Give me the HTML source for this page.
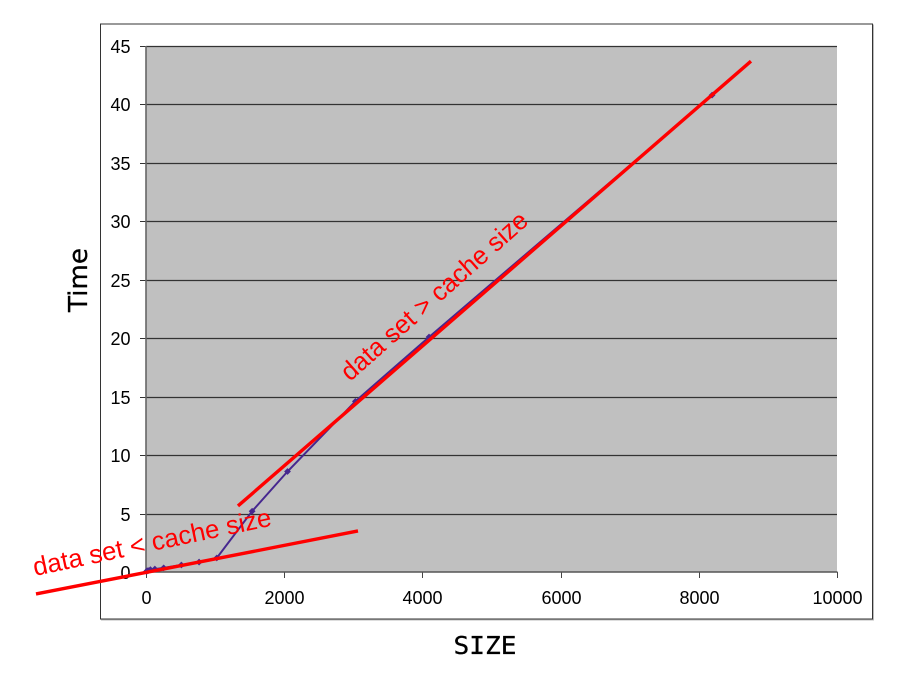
<!DOCTYPE html>
<html>
<head>
<meta charset="utf-8">
<style>
html,body{margin:0;padding:0;background:#fff;}
svg{display:block;}
text{font-family:"Liberation Sans","DejaVu Sans",sans-serif;}
</style>
</head>
<body>
<svg id="chart" width="923" height="676" viewBox="0 0 923 676" xmlns="http://www.w3.org/2000/svg">
  <rect x="101.5" y="25" width="772" height="595" fill="none" stroke="#bbb" stroke-width="1"/>
  <rect x="100.5" y="24" width="772" height="595" fill="#fff" stroke="#333" stroke-width="1"/>
  <rect x="146" y="46" width="691" height="526" fill="#c0c0c0"/>
  <g id="grid"></g>
  <g id="axes"></g>
  <g id="series"></g>
  <g id="fits"></g>
  <text x="485" y="654" text-anchor="middle" textLength="63" lengthAdjust="spacingAndGlyphs" stroke="#000" stroke-width="0.3" style="font-family:'DejaVu Sans Mono','Liberation Mono',monospace;font-size:25px" fill="#000">SIZE</text>
  <text transform="translate(87,280) rotate(-90)" text-anchor="middle" textLength="64" lengthAdjust="spacingAndGlyphs" stroke="#000" stroke-width="0.3" style="font-family:'DejaVu Sans',sans-serif;font-size:26px" fill="#000">Time</text>
  <text transform="translate(35,576) rotate(-12)" textLength="243" lengthAdjust="spacingAndGlyphs" style="font-size:26px" fill="#ff0000">data set &lt; cache size</text>
  <text transform="translate(350,382) rotate(-41.5)" textLength="240" lengthAdjust="spacingAndGlyphs" style="font-size:26px" fill="#ff0000">data set &gt; cache size</text>
</svg>
<script>
const xTicks = [0, 2000, 4000, 6000, 8000, 10000];
const yTicks = [0, 5, 10, 15, 20, 25, 30, 35, 40, 45];
const sizes = [8, 16, 32, 64, 128, 256, 512, 768, 1024, 1536, 2048, 3030, 4096, 8192];
const times = [0.05, 0.1, 0.12, 0.2, 0.25, 0.35, 0.6, 0.85, 1.2, 5.2, 8.6, 14.6, 20.1, 40.8];
const fitBelowX = [-1592, 3068];
const fitBelowY = [-1.88, 3.51];
const fitAboveX = [1331, 8755];
const fitAboveY = [5.65, 43.7];

const NS = 'http://www.w3.org/2000/svg';
const xScale = v => 146 + (v / 10000) * 691;
const yScale = v => 572 - (v / 45) * 526;
function mk(tag, attrs, parent) {
  const el = document.createElementNS(NS, tag);
  for (const k in attrs) el.setAttribute(k, attrs[k]);
  parent.appendChild(el);
  return el;
}
const grid = document.getElementById('grid');
const axes = document.getElementById('axes');
const series = document.getElementById('series');
const fits = document.getElementById('fits');

yTicks.forEach(t => {
  const y = Math.round(yScale(t)) + 0.5;
  if (t > 0) {
    const g = mk('line', {x1: 146, x2: 837, y1: y, y2: y, stroke: '#333', 'stroke-width': 1.2}, grid);
    
    
  }
  const tick = mk('line', {x1: 140, x2: 146, y1: y, y2: y, stroke: '#333', 'stroke-width': 1}, axes);
  
  
  const label = mk('text', {x: 130.5, y: y + 6.5, 'text-anchor': 'end', 'font-size': 18, fill: '#000'}, axes);
  
  
  label.textContent = t;
});
xTicks.forEach(t => {
  const x = Math.round(xScale(t)) + 0.5;
  const tick = mk('line', {x1: x, x2: x, y1: 572, y2: 578, stroke: '#444', 'stroke-width': 1}, axes);
  
  
  const label = mk('text', {x: x, y: 604, 'text-anchor': 'middle', 'font-size': 18, fill: '#000'}, axes);
  
  
  label.textContent = t;
});
const yAxis = mk('line', {x1: 146, x2: 146, y1: 46, y2: 572, stroke: '#666', 'stroke-width': 1.6}, axes);


const xAxis = mk('line', {x1: 145, x2: 837.5, y1: 572, y2: 572, stroke: '#555', 'stroke-width': 1.6}, axes);



const linePts = sizes.map((s, i) => xScale(s).toFixed(1) + ',' + yScale(times[i]).toFixed(1)).join(' ');
const dataLine = mk('polyline', {points: linePts, fill: 'none', stroke: '#46278f', 'stroke-width': 2}, series);


sizes.forEach((s, i) => {
  const cx = xScale(s), cy = yScale(times[i]);
  const m = mk('polygon', {
    points: [[cx, cy - 3.4], [cx + 3.4, cy], [cx, cy + 3.4], [cx - 3.4, cy]].map(p => p.join(',')).join(' '),
    fill: '#46278f'
  }, series);
  
  
});

const below = mk('line', {x1: xScale(fitBelowX[0]), y1: yScale(fitBelowY[0]), x2: xScale(fitBelowX[1]), y2: yScale(fitBelowY[1]), stroke: '#ff0000', 'stroke-width': 3.4}, fits);


const above = mk('line', {x1: xScale(fitAboveX[0]), y1: yScale(fitAboveY[0]), x2: xScale(fitAboveX[1]), y2: yScale(fitAboveY[1]), stroke: '#ff0000', 'stroke-width': 3.4}, fits);


</script>
</body>
</html>
